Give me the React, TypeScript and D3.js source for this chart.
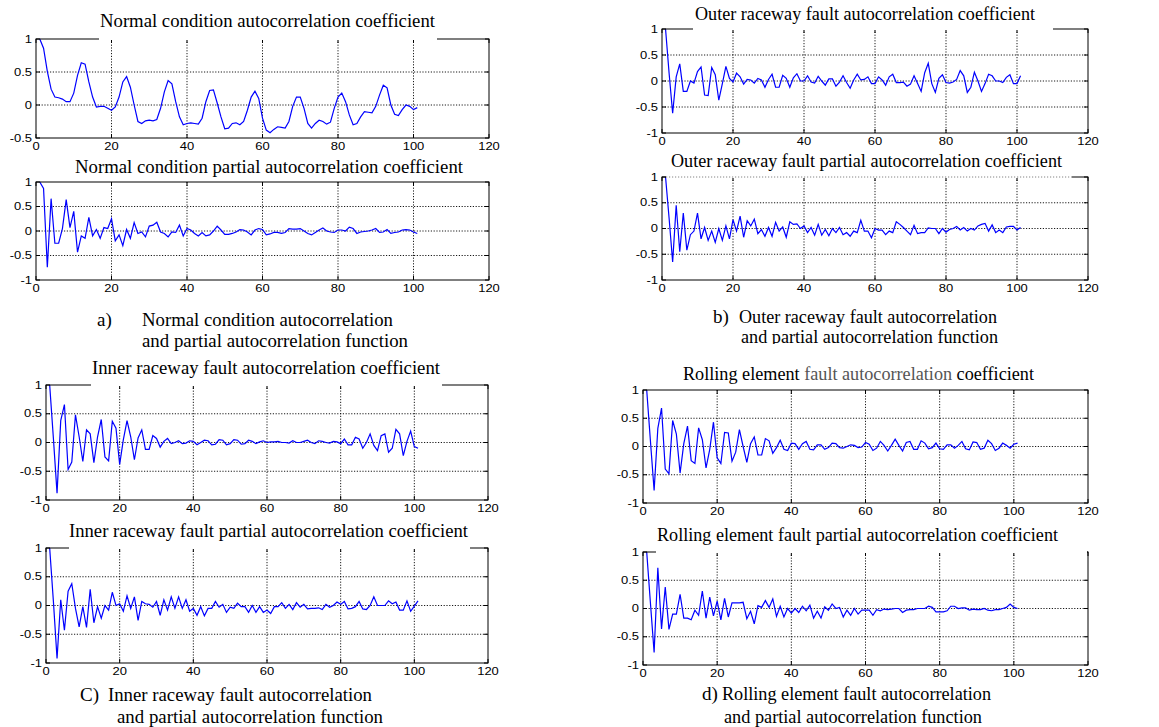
import React from 'react';
import * as d3 from 'd3';

// autocorrelation / partial autocorrelation values, lags 1..101
const normalAcf = [
  1.0, 0.86, 0.51, 0.24, 0.12, 0.11, 0.09, 0.05, 0.05, 0.18,
  0.45, 0.64, 0.62, 0.35, 0.12, -0.03, -0.02, -0.02, -0.05, -0.08,
  -0.03, 0.12, 0.35, 0.43, 0.27, 0.0, -0.25, -0.28, -0.24, -0.23,
  -0.24, -0.22, -0.05, 0.2, 0.37, 0.32, 0.05, -0.18, -0.3, -0.28,
  -0.27, -0.28, -0.29, -0.2, 0.05, 0.22, 0.23, 0.03, -0.18, -0.36,
  -0.35, -0.28, -0.27, -0.3, -0.25, -0.08, 0.12, 0.21, 0.1, -0.2,
  -0.38, -0.42, -0.37, -0.33, -0.34, -0.35, -0.25, -0.02, 0.12, 0.12,
  -0.05, -0.28, -0.35, -0.28, -0.23, -0.25, -0.29, -0.26, -0.05, 0.12,
  0.18, 0.05, -0.15, -0.3, -0.28, -0.18, -0.1, -0.11, -0.12, -0.02,
  0.15, 0.3, 0.26, 0.0, -0.14, -0.16, -0.07, 0.0, -0.02, -0.07,
  -0.04,
];

const normalPacf = [
  1.0, 0.87, -0.74, 0.66, -0.25, -0.25, 0.05, 0.64, 0.07, 0.4,
  -0.43, -0.1, -0.15, 0.28, -0.1, 0.03, -0.15, 0.07, 0.05, 0.25,
  -0.2, -0.08, -0.3, 0.03, -0.15, 0.17, -0.05, -0.02, -0.12, 0.1,
  0.12, 0.18, -0.02, -0.05, -0.12, -0.02, -0.03, 0.12, -0.1, 0.05,
  0.02, -0.05, -0.1, -0.03, -0.1, -0.08, 0.0, 0.1, 0.02, -0.07,
  -0.07, -0.05, -0.02, 0.03, 0.02, -0.02, -0.08, 0.02, 0.05, 0.03,
  -0.08, -0.06, -0.03, -0.03, -0.05, -0.03, 0.05, 0.04, 0.04, 0.05,
  0.0, -0.05, -0.08, -0.03, 0.02, 0.06, 0.0, -0.02, -0.03, 0.02,
  0.02, 0.0, 0.08, 0.05, -0.05, -0.02, -0.01, 0.0, 0.02, 0.05,
  -0.03, -0.02, 0.03, -0.05, -0.03, -0.02, 0.02, 0.03, 0.02, -0.02,
  -0.05,
];

const outerAcf = [
  1.0, 0.15, -0.62, 0.08, 0.33, -0.2, -0.2, 0.0, -0.04, 0.18,
  0.27, -0.27, -0.28, 0.26, 0.12, -0.37, -0.05, 0.28, 0.05, -0.02,
  0.15, 0.08, -0.06, 0.03, 0.02, -0.04, 0.05, 0.02, -0.12, 0.03,
  0.13, -0.12, -0.12, 0.11, 0.05, -0.12, 0.06, 0.14, 0.0, 0.0,
  0.1, -0.02, -0.04, 0.09, 0.0, -0.08, 0.04, 0.04, -0.1, -0.02,
  0.1, -0.03, -0.14, 0.02, 0.13, 0.02, 0.03, 0.08, -0.05, -0.05,
  0.08, 0.02, -0.08, 0.08, 0.13, -0.03, -0.03, -0.02, -0.1, -0.06,
  0.1, -0.05, -0.2, 0.16, 0.34, -0.05, -0.22, 0.05, 0.12, -0.03,
  -0.04, -0.02, 0.03, 0.2, 0.1, -0.22, -0.12, 0.17, 0.0, -0.2,
  -0.05, 0.13, 0.1, 0.0, 0.0, -0.03, 0.07, 0.12, -0.05, -0.05,
  0.1,
];

const outerPacf = [
  1.0, 0.2, -0.65, 0.45, -0.45, 0.3, -0.42, -0.12, -0.05, 0.3,
  -0.2, 0.02, -0.23, -0.05, -0.27, 0.0, -0.23, 0.05, -0.2, 0.17,
  -0.05, 0.24, -0.17, 0.15, 0.05, 0.18, -0.1, -0.02, -0.15, 0.02,
  -0.15, 0.12, -0.05, 0.03, -0.17, 0.13, 0.08, 0.09, 0.0, 0.05,
  -0.08, 0.02, -0.13, 0.08, -0.13, -0.02, -0.14, 0.0, -0.08, 0.02,
  -0.12, -0.08, -0.15, -0.05, -0.08, 0.16, -0.05, -0.05, -0.18, 0.0,
  -0.03, -0.03, -0.12, -0.05, -0.08, 0.13, 0.08, 0.02, -0.05, -0.12,
  0.06, -0.1, -0.08, -0.08, 0.01, 0.0, 0.0, -0.1, 0.0, -0.07,
  -0.02, 0.0, 0.04, -0.03, 0.02, -0.05, 0.0, -0.03, 0.05, 0.08,
  0.1, -0.05, 0.07, -0.08, -0.03, -0.08, 0.03, 0.04, 0.04, -0.03,
  0.02,
];

const innerAcf = [
  1.0, 0.08, -0.88, 0.38, 0.66, -0.47, -0.34, 0.48, 0.1, -0.33,
  0.22, 0.15, -0.35, 0.1, 0.4, -0.25, -0.32, 0.37, 0.25, -0.38,
  0.05, 0.38, 0.1, -0.3, 0.08, 0.22, -0.12, -0.12, 0.12, 0.07,
  -0.08, 0.02, 0.07, -0.02, 0.0, 0.03, -0.02, -0.01, 0.03, 0.02,
  -0.04, 0.0, 0.04, 0.03, -0.04, -0.03, 0.05, 0.04, -0.04, -0.02,
  0.05, 0.04, -0.03, -0.02, 0.04, 0.02, -0.02, 0.01, 0.03, 0.0,
  0.01, 0.01, 0.02, 0.0, 0.0, -0.01, 0.03, 0.0, 0.0, 0.02,
  0.04, 0.0, -0.02, 0.03, 0.02, 0.0, -0.01, 0.02, 0.01, -0.02,
  0.06, -0.04, -0.04, 0.09, 0.06, -0.1, 0.0, 0.15, -0.05, -0.14,
  0.12, 0.15, -0.17, -0.1, 0.23, 0.15, -0.23, 0.02, 0.2, -0.07,
  -0.1,
];

const innerPacf = [
  1.0, 0.08, -0.92, 0.1, -0.43, 0.25, 0.38, -0.05, -0.37, -0.02,
  -0.38, 0.28, -0.3, -0.02, -0.22, 0.0, -0.08, 0.23, 0.0, 0.03,
  -0.1, 0.17, -0.05, 0.15, -0.26, 0.07, 0.03, 0.02, -0.03, 0.07,
  -0.17, 0.1, -0.08, 0.15, -0.05, 0.15, -0.05, 0.1, -0.1, -0.05,
  -0.17, -0.02, -0.18, -0.05, -0.05, 0.07, -0.03, 0.02, -0.12, -0.03,
  -0.05, 0.04, -0.02, -0.02, -0.12, 0.0, -0.12, -0.02, -0.12, -0.08,
  -0.14, -0.02, -0.02, 0.05, -0.05, 0.02, -0.07, 0.05, -0.03, 0.02,
  -0.06, -0.05, -0.05, -0.04, -0.07, 0.02, -0.03, 0.0, 0.06, 0.02,
  0.07, -0.06, -0.05, -0.02, 0.07, -0.06, -0.07, 0.0, 0.15, 0.0,
  0.0, 0.0, 0.08, 0.03, 0.06, -0.08, -0.08, 0.08, -0.1, -0.01,
  0.08,
];

const rollingAcf = [
  1.0, 0.1, -0.78, 0.32, 0.68, -0.4, -0.48, 0.46, 0.22, -0.47,
  0.05, 0.36, -0.25, -0.3, 0.33, 0.12, -0.38, -0.05, 0.43, -0.2,
  -0.3, 0.25, 0.24, -0.26, -0.1, 0.3, 0.0, -0.28, 0.05, 0.17,
  -0.15, -0.15, 0.14, 0.1, -0.12, -0.02, 0.11, -0.05, -0.07, 0.06,
  0.05, -0.05, 0.05, 0.09, -0.05, -0.06, 0.03, 0.03, -0.05, -0.02,
  0.06, 0.05, -0.02, -0.03, 0.0, 0.03, 0.02, -0.02, -0.01, 0.07,
  0.04, -0.07, -0.03, 0.09, 0.02, -0.08, 0.02, 0.13, 0.02, -0.08,
  0.07, 0.09, -0.05, -0.05, 0.1, 0.06, -0.04, -0.02, 0.06, -0.04,
  -0.05, 0.03, 0.03, -0.03, 0.02, 0.09, -0.04, -0.06, 0.08, 0.07,
  -0.05, -0.03, 0.11, 0.05, -0.07, -0.03, 0.06, 0.02, -0.03, 0.04,
  0.06,
];

const rollingPacf = [
  1.0, 0.1, -0.78, 0.72, -0.36, 0.38, -0.37, -0.1, -0.1, 0.25,
  -0.17, -0.17, -0.2, -0.03, -0.12, 0.31, -0.17, 0.2, -0.13, 0.13,
  -0.2, 0.18, -0.15, 0.1, 0.1, 0.1, 0.11, -0.18, -0.05, -0.27,
  0.05, 0.02, 0.14, 0.02, 0.17, -0.14, 0.04, -0.15, 0.0, -0.08,
  0.0, -0.07, 0.04, -0.04, 0.06, -0.17, -0.05, -0.17, 0.03, -0.03,
  0.08, 0.0, 0.02, -0.15, -0.03, -0.12, 0.0, -0.1, -0.03, -0.03,
  -0.03, -0.12, -0.02, -0.04, -0.01, -0.02, -0.01, 0.0, 0.0, -0.07,
  -0.03, -0.02, -0.02, 0.0, 0.0, 0.0, 0.04, 0.02, -0.06, -0.06,
  -0.06, -0.04, 0.04, 0.04, 0.0, 0.01, 0.01, -0.03, -0.01, -0.02,
  -0.02, 0.0, -0.03, -0.04, -0.02, -0.02, 0.0, 0.02, 0.08, 0.02,
  0.0,
];

const xTicks = [0, 20, 40, 60, 80, 100, 120];
const yTicksFull = [-1, -0.5, 0, 0.5, 1];
const yTicksHalf = [-0.5, 0, 0.5, 1];

const titles = [
  'Normal condition autocorrelation coefficient',
  'Normal condition partial autocorrelation coefficient',
  'Outer raceway fault autocorrelation coefficient',
  'Outer raceway fault partial autocorrelation coefficient',
  'Inner raceway fault autocorrelation coefficient',
  'Inner raceway fault partial autocorrelation coefficient',
  'Rolling element fault autocorrelation coefficient',
  'Rolling element fault partial autocorrelation coefficient',
];

const captionLabels = ['a)', 'b)', 'C)', 'd)'];
const captionFirst = [
  'Normal condition autocorrelation',
  'Outer raceway fault autocorrelation',
  'Inner raceway fault autocorrelation',
  'Rolling element fault autocorrelation',
];
const captionSecond = 'and partial autocorrelation function';

// layout of each subplot (pixels)
const panels = [
  { values: normalAcf, yMin: -0.5, l: 36, r: 489, t: 39, b: 138, tx: [100, 435], ty: 27, mask: [99, 437] },
  { values: normalPacf, yMin: -1, l: 36, r: 489, t: 182, b: 280, tx: [75, 463], ty: 173, mask: null },
  { values: outerAcf, yMin: -1, l: 662, r: 1088, t: 29, b: 133, tx: [695, 1035], ty: 20, mask: [693, 1053] },
  { values: outerPacf, yMin: -1, l: 662, r: 1088, t: 177, b: 280, tx: [671, 1062], ty: 167, mask: [666, 1072], dots: true },
  { values: innerAcf, yMin: -1, l: 46, r: 488, t: 385, b: 500, tx: [92, 440], ty: 374, mask: [91, 442] },
  { values: innerPacf, yMin: -1, l: 46, r: 488, t: 548, b: 663, tx: [69, 468], ty: 537, mask: [69, 470] },
  { values: rollingAcf, yMin: -1, l: 643, r: 1088, t: 390, b: 503, tx: [683, 1034], ty: 380, mask: null, gray: 'fault autocorrelation' },
  { values: rollingPacf, yMin: -1, l: 643, r: 1088, t: 552, b: 665, tx: [657, 1058], ty: 541, mask: [656, 1087] },
];

const captions = [
  { lx: 97, x1: [142, 393], y1: 326, x2: [142, 408], y2: 347 },
  { lx: 713, x1: [739, 997], y1: 323, x2: [741, 998], y2: 343, clip: 344 },
  { lx: 80, x1: [108, 372], y1: 701, x2: [117, 383], y2: 723 },
  { lx: 702, x1: [722, 991], y1: 700, x2: [724, 982], y2: 723 },
];

const serif = '"Liberation Serif", "Times New Roman", serif';
const sans = '"Liberation Sans", Arial, sans-serif';

const fmt = (v: number) => (v === 0 ? '0' : String(v));

const Subplot = ({ p, title }: { p: any; title: string }) => {
  const x = d3.scaleLinear().domain([0, 120]).range([p.l, p.r]);
  const y = d3.scaleLinear().domain([p.yMin, 1]).range([p.b, p.t]);
  const yTicks = p.yMin === -1 ? yTicksFull : yTicksHalf;
  const line = d3
    .line<number>()
    .x((d, i) => x(i + 1))
    .y((d) => y(d));

  // title, with an optional grey part
  let titleNode: any = title;
  if (p.gray) {
    const k = title.indexOf(p.gray);
    titleNode = (
      <>
        <tspan>{title.slice(0, k)}</tspan>
        <tspan fill='#555'>{p.gray}</tspan>
        <tspan>{title.slice(k + p.gray.length)}</tspan>
      </>
    );
  }

  return (
    <g>
      {/* dotted grid */}
      {xTicks.slice(1, -1).map((t) => (
        <line key={'gx' + t} x1={x(t)} x2={x(t)} y1={p.t} y2={p.b}
          stroke='#000' strokeWidth={0.9} strokeDasharray='1.2,1.6' />
      ))}
      {yTicks.slice(1, -1).map((t) => (
        <line key={'gy' + t} x1={p.l} x2={p.r} y1={y(t)} y2={y(t)}
          stroke='#000' strokeWidth={0.9} strokeDasharray='1.2,1.6' />
      ))}

      <path d={line(p.values) || ''} fill='none' stroke='#0000ff' strokeWidth={1.2} />

      {/* frame */}
      <rect x={p.l} y={p.t} width={p.r - p.l} height={p.b - p.t}
        fill='none' stroke='#000' strokeWidth={1} />

      {/* inward ticks */}
      {xTicks.map((t) => (
        <g key={'tx' + t}>
          <line x1={x(t)} x2={x(t)} y1={p.b} y2={p.b - 4} stroke='#000' />
          <line x1={x(t)} x2={x(t)} y1={p.t} y2={p.t + 4} stroke='#000' />
        </g>
      ))}
      {yTicks.map((t) => (
        <g key={'ty' + t}>
          <line x1={p.l} x2={p.l + 4} y1={y(t)} y2={y(t)} stroke='#000' />
          <line x1={p.r} x2={p.r - 4} y1={y(t)} y2={y(t)} stroke='#000' />
        </g>
      ))}

      {/* title box hides the top border */}
      {p.mask && (
        <rect x={p.mask[0]} y={p.t - 2} width={p.mask[1] - p.mask[0]} height={3} fill='#fff' />
      )}
      {p.mask && p.dots && (
        <line x1={p.mask[0]} x2={p.mask[1]} y1={p.t} y2={p.t}
          stroke='#666' strokeWidth={0.8} strokeDasharray='1.2,1.8' />
      )}

      <text x={p.tx[0]} y={p.ty} textLength={p.tx[1] - p.tx[0]} lengthAdjust='spacingAndGlyphs'
        fontFamily={serif} fontSize={19} fill='#000'>
        {titleNode}
      </text>

      {/* tick labels */}
      {xTicks.map((t) => (
        <text key={'lx' + t} transform={`translate(${x(t)},${p.b + 11.5}) scale(1.3,1)`}
          textAnchor='middle' fontFamily={sans} fontSize={10} fill='#000'>
          {t}
        </text>
      ))}
      {yTicks.map((t) => (
        <text key={'ly' + t} transform={`translate(${p.l - 4},${y(t) + 3.5}) scale(1.3,1)`}
          textAnchor='end' fontFamily={sans} fontSize={10} fill='#000'>
          {fmt(t)}
        </text>
      ))}
    </g>
  );
};

const App = () => {
  return (
    <svg width={1159} height={727} style={{ position: 'absolute', left: 0, top: 0, background: '#fff' }}>
      <defs>
        {captions.map((c, i) =>
          c.clip ? (
            <clipPath key={i} id={'capclip' + i}>
              <rect x={0} y={0} width={1159} height={c.clip} />
            </clipPath>
          ) : null
        )}
      </defs>
      {panels.map((p, i) => (
        <Subplot key={i} p={p} title={titles[i]} />
      ))}
      {captions.map((c, i) => (
        <g key={'cap' + i} fontFamily={serif} fontSize={19} fill='#000'
          clipPath={c.clip ? `url(#capclip${i})` : undefined}>
          <text x={c.lx} y={c.y1}>{captionLabels[i]}</text>
          <text x={c.x1[0]} y={c.y1} textLength={c.x1[1] - c.x1[0]} lengthAdjust='spacingAndGlyphs'>
            {captionFirst[i]}
          </text>
          <text x={c.x2[0]} y={c.y2} textLength={c.x2[1] - c.x2[0]} lengthAdjust='spacingAndGlyphs'>
            {captionSecond}
          </text>
        </g>
      ))}
    </svg>
  );
};

export default App;
